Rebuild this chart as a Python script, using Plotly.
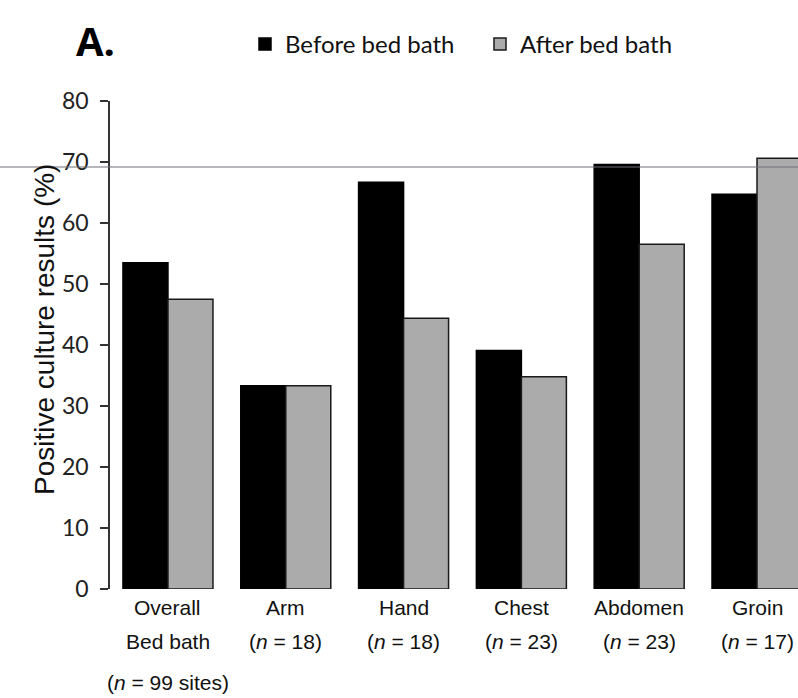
import plotly.graph_objects as go

# Body sites and culture positivity (%) before / after the bed bath
sites = ["Overall", "Arm", "Hand", "Chest", "Abdomen", "Groin"]
label_line2 = ["Bed bath", "(<i>n</i> = 18)", "(<i>n</i> = 18)", "(<i>n</i> = 23)",
               "(<i>n</i> = 23)", "(<i>n</i> = 17)"]
label_line3 = ["(<i>n</i> = 99 sites)", "", "", "", "", ""]
before = [53.5, 33.3, 66.7, 39.1, 69.6, 64.7]
after = [47.5, 33.3, 44.4, 34.8, 56.5, 70.6]
y_ticks = [0, 10, 20, 30, 40, 50, 60, 70, 80]

W, H = 798, 698
ML, MR, MT, MB = 110, 0, 101, 109
plot_w = W - ML - MR
plot_h = H - MT - MB

x_idx = list(range(len(sites)))


def px_x(xpix):
    return (xpix - ML) / plot_w


def px_y(ypix):
    return (H - MB - ypix) / plot_h


fig = go.Figure()
fig.add_trace(go.Bar(
    x=x_idx, y=before, name="Before bed bath",
    marker=dict(color="#000000", line=dict(color="#000000", width=1.5)),
))
fig.add_trace(go.Bar(
    x=x_idx, y=after, name="After bed bath",
    marker=dict(color="#ababab", line=dict(color="#1a1a1a", width=1.5)),
))

# category labels, one annotation per text line
line_rows = [(sites, 607), (label_line2, 641), (label_line3, 682)]
for texts, ypix in line_rows:
    for i, t in enumerate(texts):
        if not t:
            continue
        fig.add_annotation(
            x=i, y=px_y(ypix), xref="x", yref="paper",
            text=t, showarrow=False, xanchor="center", yanchor="middle",
            font=dict(family="Liberation Sans Narrow, Arial Narrow, Liberation Sans",
                      size=21, color="#111111"),
        )

# panel letter
fig.add_annotation(
    x=px_x(74), y=px_y(40), xref="paper", yref="paper", text="<b>A.</b>",
    showarrow=False, xanchor="left", yanchor="middle",
    font=dict(family="Open Sans, Liberation Sans", size=40, color="#000000"),
)

# y-axis title
fig.add_annotation(
    x=px_x(44), y=px_y(330), xref="paper", yref="paper",
    text="Positive culture results (%)", textangle=-90, showarrow=False,
    xanchor="center", yanchor="middle",
    font=dict(family="Liberation Sans, Arial", size=28, color="#111111"),
)

# thin horizontal rule across the figure
fig.add_shape(
    type="line", xref="paper", yref="paper",
    x0=px_x(0), x1=1.0, y0=px_y(167), y1=px_y(167),
    line=dict(color="#6e6e78", width=1.2), layer="above",
)

fig.update_layout(
    width=W, height=H,
    margin=dict(l=ML, r=MR, t=MT, b=MB),
    paper_bgcolor="white", plot_bgcolor="white",
    barmode="group", bargap=0.236, bargroupgap=0,
    font=dict(family="Lato, Liberation Sans", color="#111111"),
    showlegend=True,
    legend=dict(
        orientation="h", x=px_x(245), y=px_y(22),
        xanchor="left", yanchor="top",
        font=dict(family="Lato, Liberation Sans", size=24, color="#111111"),
        entrywidth=190, entrywidthmode="pixels", itemwidth=30,
        bgcolor="rgba(0,0,0,0)",
    ),
    xaxis=dict(
        range=[-0.492, 5.348], showticklabels=False, showline=False,
        showgrid=False, zeroline=False, ticks="",
    ),
    yaxis=dict(
        range=[0, 80], tickvals=y_ticks, ticks="outside", ticklen=8,
        tickwidth=1.5, tickcolor="#333333",
        showline=True, linecolor="#333333", linewidth=1.5,
        showgrid=False, zeroline=False, ticklabelstandoff=7,
        tickfont=dict(family="Lato, Liberation Sans", size=23, color="#222222"),
    ),
)

fig.write_html("out.html")
